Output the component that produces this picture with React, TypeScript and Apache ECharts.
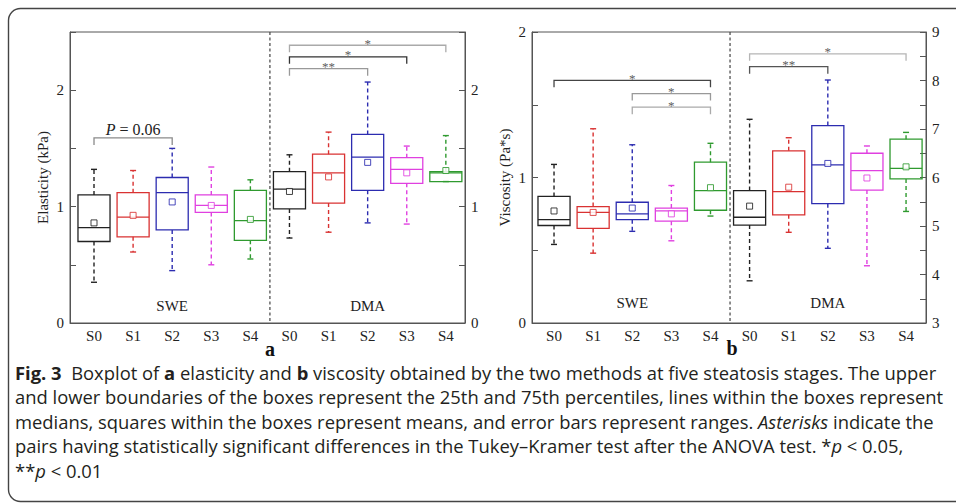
import React, { useEffect, useRef } from 'react';
import * as echarts from 'echarts';

const stages = ['S0', 'S1', 'S2', 'S3', 'S4'];
const methods = ['SWE', 'DMA'];
const stageColors = ['#222222', '#d93232', '#2c2cb0', '#e040e0', '#2f9a2f'];

// rows: [min, q1, median, q3, max, mean]
const elasticitySWE = [
  [0.35, 0.70, 0.82, 1.10, 1.32, 0.86],
  [0.61, 0.74, 0.91, 1.12, 1.31, 0.925],
  [0.45, 0.80, 1.12, 1.25, 1.50, 1.04],
  [0.50, 0.95, 1.01, 1.10, 1.34, 1.01],
  [0.55, 0.71, 0.88, 1.14, 1.23, 0.89],
];
const elasticityDMA = [
  [0.73, 0.98, 1.15, 1.30, 1.445, 1.13],
  [0.78, 1.03, 1.29, 1.45, 1.64, 1.255],
  [0.86, 1.14, 1.425, 1.62, 2.07, 1.38],
  [0.85, 1.20, 1.32, 1.42, 1.52, 1.29],
  [1.215, 1.215, 1.29, 1.30, 1.61, 1.31],
];
const viscositySWE = [
  [0.54, 0.67, 0.71, 0.87, 1.09, 0.77],
  [0.48, 0.65, 0.76, 0.80, 1.335, 0.76],
  [0.63, 0.71, 0.75, 0.83, 1.225, 0.79],
  [0.565, 0.70, 0.77, 0.79, 0.945, 0.75],
  [0.735, 0.775, 0.91, 1.105, 1.235, 0.93],
];
const viscosityDMA = [
  [3.87, 5.02, 5.18, 5.73, 7.20, 5.41],
  [4.87, 5.23, 5.71, 6.55, 6.82, 5.80],
  [4.54, 5.46, 6.26, 7.07, 8.01, 6.29],
  [4.18, 5.74, 6.14, 6.50, 6.65, 5.99],
  [5.30, 5.97, 6.19, 6.79, 6.93, 6.22],
];

// brackets: [fromPosition, toPosition, level, label]
const elasticityBrackets: [number, number, number, string][] = [
  [1, 3, 1.59, 'P = 0.06'],
  [6, 8, 2.185, '**'],
  [6, 9, 2.287, '*'],
  [6, 10, 2.386, '*'],
];
const viscositySWEBrackets: [number, number, number, string][] = [
  [1, 5, 1.668, '*'],
  [3, 5, 1.577, '*'],
  [3, 5, 1.483, '*'],
];
const viscosityDMABrackets: [number, number, number, string][] = [
  [6, 8, 8.285, '**'],
  [6, 10, 8.55, '*'],
];
const elasticityBracketShades = ['#8a8a8a', '#999999', '#333333', '#aaaaaa'];
const viscositySWEBracketShades = ['#444444', '#999999', '#aaaaaa'];
const viscosityDMABracketShades = ['#555555', '#b5b5b5'];

const SERIF = '"Liberation Serif", "Times New Roman", serif';
const SANS = '"Open Sans", "Noto Sans", sans-serif';
const BOX_HALF = 0.41;

const boxRows = (rows: number[][], offset: number) =>
  rows.map((r, i) => [i + 1 + offset, ...r, i]);

const renderBox = (params: any, api: any) => {
  const x = api.value(0);
  const mn = api.value(1), q1 = api.value(2), md = api.value(3), q3 = api.value(4), mx = api.value(5), mean = api.value(6);
  const color = stageColors[api.value(7)];
  const cx = api.coord([x, md])[0];
  const half = api.coord([x + BOX_HALF, md])[0] - cx;
  const y = (v: number) => api.coord([x, v])[1];
  const dash = { stroke: color, lineWidth: 1.4, lineDash: [4, 3], fill: 'none' };
  const solid = { stroke: color, lineWidth: 1.4, fill: 'none' };
  const cap = 3;
  return {
    type: 'group',
    children: [
      { type: 'line', shape: { x1: cx, y1: y(q3), x2: cx, y2: y(mx) }, style: dash },
      { type: 'line', shape: { x1: cx, y1: y(q1), x2: cx, y2: y(mn) }, style: dash },
      { type: 'line', shape: { x1: cx - cap, y1: y(mx), x2: cx + cap, y2: y(mx) }, style: solid },
      { type: 'line', shape: { x1: cx - cap, y1: y(mn), x2: cx + cap, y2: y(mn) }, style: solid },
      { type: 'rect', shape: { x: cx - half, y: y(q3), width: 2 * half, height: y(q1) - y(q3) }, style: { ...solid, lineWidth: 1.3 } },
      { type: 'line', shape: { x1: cx - half, y1: y(md), x2: cx + half, y2: y(md) }, style: { ...solid, lineWidth: 1.3 } },
      { type: 'rect', shape: { x: cx - 3, y: y(mean) - 3, width: 6, height: 6 }, style: { fill: '#fff', stroke: color, lineWidth: 1, opacity: 0.85 } },
    ],
  };
};

const makeBracketRender = (brackets: [number, number, number, string][], shades: string[]) => (params: any, api: any) => {
  const b = brackets[params.dataIndex];
  const p1 = api.coord([b[0], b[2]]);
  const p2 = api.coord([b[1], b[2]]);
  const color = shades[params.dataIndex];
  const isStar = b[3].indexOf('*') === 0;
  const tick = 7;
  const textEl = isStar
    ? {
        type: 'text', x: (p1[0] + p2[0]) / 2, y: p1[1] - 2,
        style: { text: b[3], fill: '#606060', fontSize: 13, lineHeight: 11, fontFamily: SERIF, align: 'center', verticalAlign: 'middle' },
      }
    : {
        type: 'text', x: (p1[0] + p2[0]) / 2, y: p1[1] - 0.5,
        style: {
          text: '{i|P} = 0.06', fill: '#222', fontSize: 16, fontFamily: SERIF, align: 'center', verticalAlign: 'bottom',
          rich: { i: { fontStyle: 'italic', fontSize: 16, fontFamily: SERIF, fill: '#222' } },
        },
      };
  return {
    type: 'group',
    children: [
      { type: 'polyline', shape: { points: [[p1[0], p1[1] + tick], [p1[0], p1[1]], [p2[0], p2[1]], [p2[0], p2[1] + tick]] }, style: { stroke: color, lineWidth: 1.3, fill: 'none' } },
      textEl,
    ],
  };
};

const renderDivider = (params: any, api: any) => {
  const cs = params.coordSys;
  const x = api.coord([api.value(0), 0])[0];
  return { type: 'line', shape: { x1: x, y1: cs.y, x2: x, y2: cs.y + cs.height }, style: { stroke: '#444', lineWidth: 1.2, lineDash: [3, 2.5] } };
};

const makeMethodRender = () => (params: any, api: any) => {
  const p = api.coord([api.value(0), api.value(1)]);
  return { type: 'text', x: p[0], y: p[1], style: { text: methods[params.dataIndex], fill: '#222', fontSize: 15, fontFamily: SERIF, align: 'center', verticalAlign: 'middle' } };
};

const positions = [1, 2, 3, 4, 5, 6, 7, 8, 9, 10];

const xAxisFor = (gridIndex: number, min: number, max: number) => ({
  type: 'value', gridIndex, min, max,
  axisLine: { show: true, lineStyle: { color: '#555', width: 1 } },
  axisTick: { show: false },
  splitLine: { show: false },
  axisLabel: {
    customValues: positions,
    formatter: (v: number) => stages[(Math.round(v) - 1) % 5],
    color: '#222', fontFamily: SERIF, fontSize: 15, margin: 5,
  },
});

const yAxisFor = (gridIndex: number, min: number, max: number, position: string, name: string, nameGap = 24) => ({
  type: 'value', gridIndex, min, max, interval: 0.5, position,
  axisLine: { show: true, onZero: false, lineStyle: { color: '#555', width: 1 } },
  axisTick: { show: true, inside: true, length: 6, lineStyle: { color: '#555' } },
  splitLine: { show: false },
  axisLabel: {
    formatter: (v: number) => (Math.abs(v - Math.round(v)) < 1e-6 ? String(Math.round(v)) : ''),
    color: '#222', fontFamily: SERIF, fontSize: 15, margin: 6,
  },
  name, nameLocation: 'middle', nameGap,
  nameTextStyle: { color: '#222', fontFamily: SERIF, fontSize: 15 },
});

const captionLines = [
  '{b|Fig. 3}  Boxplot of {b|a} elasticity and {b|b} viscosity obtained by the two methods at five steatosis stages. The upper',
  'and lower boundaries of the boxes represent the 25th and 75th percentiles, lines within the boxes represent',
  'medians, squares within the boxes represent means, and error bars represent ranges. {i|Asterisks} indicate the',
  'pairs having statistically significant differences in the Tukey–Kramer test after the ANOVA test. *{i|p} < 0.05,',
  '**{i|p} < 0.01',
];
const captionY = [372, 396.5, 421, 445.5, 470];
const CAP_SIZE = 18.4;

const option: any = {
  animation: false,
  backgroundColor: '#fff',
  grid: [
    { left: 70, top: 32, width: 395, height: 291, show: true, borderColor: '#555', borderWidth: 1, containLabel: false },
    { left: 532, top: 32, width: 394, height: 291, show: true, borderColor: '#555', borderWidth: 1, containLabel: false },
  ],
  xAxis: [xAxisFor(0, 0.386, 10.49), xAxisFor(1, 0.437, 10.51)],
  yAxis: [
    yAxisFor(0, 0, 2.5, 'left', 'Elasticity (kPa)', 20),
    yAxisFor(0, 0, 2.5, 'right', ''),
    yAxisFor(1, 0, 2, 'left', 'Viscosity (Pa*s)', 20),
    yAxisFor(1, 3, 9, 'right', ''),
  ],
  series: [
    { type: 'custom', xAxisIndex: 0, yAxisIndex: 0, data: [[5.5]], renderItem: renderDivider, silent: true, clip: false },
    { type: 'custom', xAxisIndex: 1, yAxisIndex: 2, data: [[5.5]], renderItem: renderDivider, silent: true, clip: false },
    { type: 'custom', name: 'Elasticity SWE', xAxisIndex: 0, yAxisIndex: 0, data: boxRows(elasticitySWE, 0), renderItem: renderBox, encode: { x: 0, y: [1, 2, 3, 4, 5] } },
    { type: 'custom', name: 'Elasticity DMA', xAxisIndex: 0, yAxisIndex: 0, data: boxRows(elasticityDMA, 5), renderItem: renderBox, encode: { x: 0, y: [1, 2, 3, 4, 5] } },
    { type: 'custom', name: 'Viscosity SWE', xAxisIndex: 1, yAxisIndex: 2, data: boxRows(viscositySWE, 0), renderItem: renderBox, encode: { x: 0, y: [1, 2, 3, 4, 5] } },
    { type: 'custom', name: 'Viscosity DMA', xAxisIndex: 1, yAxisIndex: 3, data: boxRows(viscosityDMA, 5), renderItem: renderBox, encode: { x: 0, y: [1, 2, 3, 4, 5] } },
    { type: 'custom', xAxisIndex: 0, yAxisIndex: 0, data: elasticityBrackets.map((b) => [b[0], b[1], b[2]]), renderItem: makeBracketRender(elasticityBrackets, elasticityBracketShades), encode: { x: [0, 1], y: 2 } },
    { type: 'custom', xAxisIndex: 1, yAxisIndex: 2, data: viscositySWEBrackets.map((b) => [b[0], b[1], b[2]]), renderItem: makeBracketRender(viscositySWEBrackets, viscositySWEBracketShades), encode: { x: [0, 1], y: 2 } },
    { type: 'custom', xAxisIndex: 1, yAxisIndex: 3, data: viscosityDMABrackets.map((b) => [b[0], b[1], b[2]]), renderItem: makeBracketRender(viscosityDMABrackets, viscosityDMABracketShades), encode: { x: [0, 1], y: 2 } },
    { type: 'custom', xAxisIndex: 0, yAxisIndex: 0, data: [[3, 0.146], [8, 0.146]], renderItem: makeMethodRender(), encode: { x: 0, y: 1 } },
    { type: 'custom', xAxisIndex: 1, yAxisIndex: 2, data: [[3, 0.137], [8, 0.137]], renderItem: makeMethodRender(), encode: { x: 0, y: 1 } },
  ],
  graphic: [
    { type: 'rect', shape: { x: 8.5, y: 8.5, width: 1000, height: 493, r: 12 }, style: { fill: 'none', stroke: '#444', lineWidth: 1.4 }, silent: true },
    { type: 'text', x: 270, y: 349, style: { text: 'a', fontSize: 20, fontWeight: 'bold', fontFamily: SERIF, fill: '#111', align: 'center', verticalAlign: 'middle' } },
    { type: 'text', x: 732, y: 348, style: { text: 'b', fontSize: 20, fontWeight: 'bold', fontFamily: SERIF, fill: '#111', align: 'center', verticalAlign: 'middle' } },
    ...captionLines.map((t, i) => ({
      type: 'text', x: 15, y: captionY[i],
      style: {
        text: t, fontSize: CAP_SIZE, fontFamily: SANS, fill: '#231f20', align: 'left', verticalAlign: 'middle',
        rich: {
          b: { fontWeight: 'bold', fontSize: CAP_SIZE, fontFamily: SANS, fill: '#231f20' },
          i: { fontStyle: 'italic', fontSize: CAP_SIZE, fontFamily: SANS, fill: '#231f20' },
        },
      },
    })),
  ],
};

export default function App() {
  const ref = useRef<HTMLDivElement>(null);
  useEffect(() => {
    const chart = echarts.init(ref.current!, null, { renderer: 'svg' });
    chart.setOption(option);
    return () => chart.dispose();
  }, []);
  return <div ref={ref} style={{ position: 'absolute', left: 0, top: 0, width: 956, height: 504, background: '#fff' }} />;
}
